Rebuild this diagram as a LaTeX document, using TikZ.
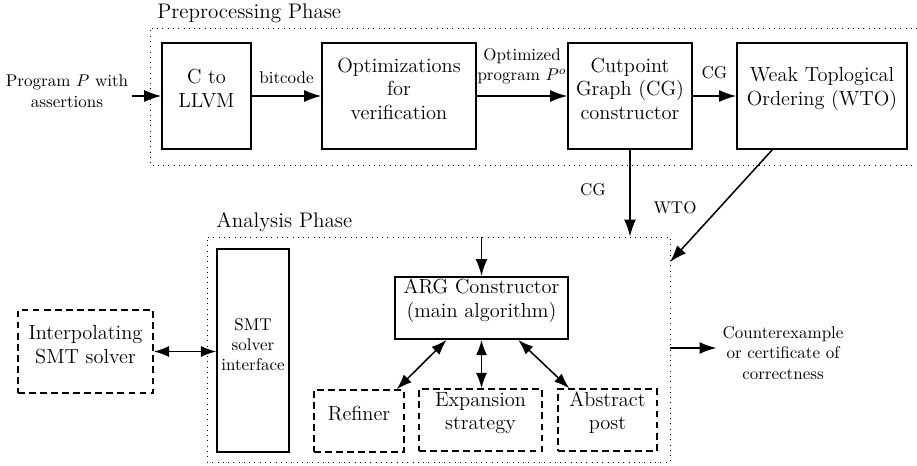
\documentclass[tikz,border=0pt]{standalone}
\usetikzlibrary{arrows.meta,fit,calc}
\begin{document}
\begin{tikzpicture}[x=0.5882pt,y=-0.5882pt,
  box/.style={draw, line width=0.9pt, inner sep=0pt, align=center, font=\large},
  dbox/.style={box, dash pattern=on 4pt off 2.5pt},
  phase/.style={draw, dash pattern=on 0.5pt off 2.6pt, line width=0.5pt},
  phasebox/.style={phase, inner sep=0pt},
  arr/.style={-{Latex[length=10pt,width=7pt]}, line width=0.9pt},
  darr/.style={{Latex[length=9pt,width=6.5pt]}-{Latex[length=9pt,width=6.5pt]}, line width=0.9pt},
  lbl/.style={font=\normalsize, align=center},
  ttl/.style={font=\fontsize{12.4}{14}\selectfont, anchor=base west, inner sep=0pt}]
\useasboundingbox (0,0) rectangle (917,465);

% Preprocessing phase (open on the right)
\draw[phase] (917,28) -- (150,28) -- (150,165) -- (917,165);
\node[ttl] (pretitle) at (157,18) {Preprocessing Phase};

\node[box, fit={(162,43) (251,149)}] (c2l) {C to\\LLVM};
\node[box, fit={(322,43) (476,149)}] (opt) {Optimizations\\for\\verification};
\node[box, fit={(568,43) (692,149)}] (cut) {Cutpoint\\Graph (CG)\\constructor};
\node[box, fit={(737,43) (907,149)}] (wto) {Weak Toplogical\\Ordering (WTO)};

\node[lbl, inner sep=2pt] (inp) at (67,91) {Program $P$ with\\assertions};
\draw[arr] (inp.east |- c2l.west) -- (c2l.west);
\draw[arr] (c2l) -- node[lbl, above=3.7pt] {bitcode} (opt);
\draw[arr] (opt) -- node[lbl, above=3pt] {Optimized\\program $P^o$} (cut);
\draw[arr] (cut) -- node[lbl, above=6pt] {CG} (wto);

% Analysis phase
\node[phasebox, fit={(207,237) (670,462)}] (ana) {};
\node[ttl] (anatitle) at (216,227) {Analysis Phase};

\coordinate (wtoout) at (773,149);
\coordinate (anain) at (670,262);
\draw[arr] (cut.south) -- (cut.south |- ana.north);
\node[lbl] (cglbl) at (593,190) {CG};
\draw[arr] (wtoout) -- (anain);
\node[lbl] (wtolbl) at (675,208) {WTO};

\node[box, font=\normalsize, fit={(217,249) (289,452)}] (smt) {SMT\\solver\\interface};
\node[dbox, fit={(18,310) (153,393)}] (interp) {Interpolating\\SMT solver};
\draw[darr] (interp.east) -- (interp.east -| smt.west);

\node[box, line width=1.1pt, fit={(395,277) (568,339)}] (arg) {ARG Constructor\\(main algorithm)};
\draw[arr] (arg.north |- ana.north) -- (arg.north);

\node[dbox, fit={(314,390) (404,452)}] (ref) {Refiner};
\node[dbox, fit={(419,389) (542,451)}] (exp) {Expansion\\strategy};
\node[dbox, fit={(558,389) (657,451)}] (abs) {Abstract\\post};

\draw[darr] ($(arg.south west)!0.3!(arg.south east)$) -- ($(ref.north east)+(-8,0)$);
\draw[darr] (arg.south) -- (arg.south |- exp.north);
\draw[darr] ($(arg.south west)!0.71!(arg.south east)$) -- ($(abs.north west)+(12,0)$);

\node[lbl] (out) at (783,353) {Counterexample\\or certificate of\\correctness};
\draw[arr] (ana.east |- 0,348) -- (ana.east |- 0,348 -| out.west);
\end{tikzpicture}
\end{document}
